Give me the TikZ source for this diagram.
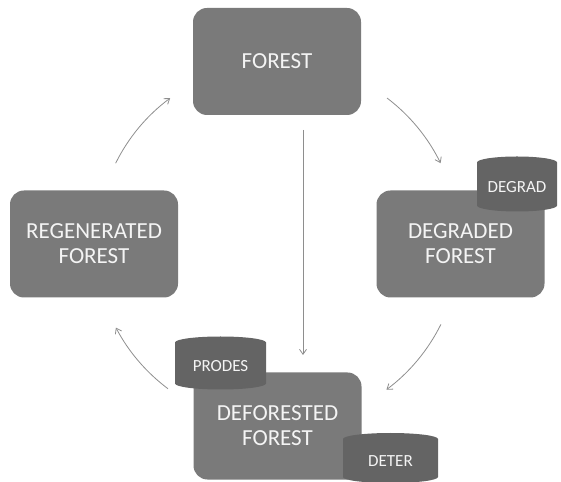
\documentclass[tikz,border=0pt]{standalone}
\usepackage{fontspec}
\setmainfont{Carlito}
\usetikzlibrary{arrows.meta}
\definecolor{boxc}{HTML}{7A7A7A}
\definecolor{cylc}{HTML}{646464}
\definecolor{arrc}{HTML}{8E8E8E}
\definecolor{txtc}{HTML}{F4F4F4}
\tikzset{
  bigbox/.style={fill=boxc, rounded corners=14pt, minimum width=168pt, minimum height=107pt,
    text=txtc, align=center, font=\fontsize{23}{25}\selectfont, inner sep=0pt},
  cyltext/.style={text=txtc, font=\fontsize{17}{19}\selectfont, inner sep=0pt},
  arr/.style={draw=arrc, line width=0.8pt, -{Straight Barb[length=5pt,width=7pt]}},
}
\newcommand\mycyl[6]{% cx cy w h name text
  \begin{scope}[shift={(#1,#2)}]
    \path[fill=cylc] (-#3/2,#4/2-6) arc[start angle=180,end angle=0,x radius=#3/2,y radius=6]
      -- (#3/2,-#4/2+6) arc[start angle=0,end angle=-180,x radius=#3/2,y radius=6] -- cycle;
    \node[cyltext] (#5) at (0,-3) {#6};
  \end{scope}}
\begin{document}
\begin{tikzpicture}[x=1pt,y=1pt]
\useasboundingbox (0,0) rectangle (561,481);
\node[bigbox] (forest) at (277,419.5) {FOREST};
\node[bigbox] (regen) at (94,237) {REGENERATED\\FOREST};
\node[bigbox] (degr) at (460.5,237) {DEGRADED\\FOREST};
\node[bigbox] (defor) at (277.5,55) {DEFORESTED\\FOREST};
\mycyl{517}{297}{80}{55}{degrad}{DEGRAD}
\mycyl{220.5}{118}{91}{53}{prodes}{PRODES}
\mycyl{390.5}{23}{95}{50}{deter}{DETER}
\coordinate (ctr) at (277,238);
\draw[arr] (ctr) ++(52.8:182) arc[start angle=52.8,end angle=26,radius=182];
\draw[arr] (ctr) ++(-26.4:183) arc[start angle=-26.4,end angle=-53.3,radius=183];
\draw[arr] (ctr) ++(-126.8:182) arc[start angle=-126.8,end angle=-152.3,radius=182];
\draw[arr] (ctr) ++(153.7:180) arc[start angle=153.7,end angle=126.4,radius=180];
\coordinate (vtop) at (303,351);
\coordinate (vbot) at (303,126);
\draw[arr] (vtop) -- (vbot);
\end{tikzpicture}
\end{document}
